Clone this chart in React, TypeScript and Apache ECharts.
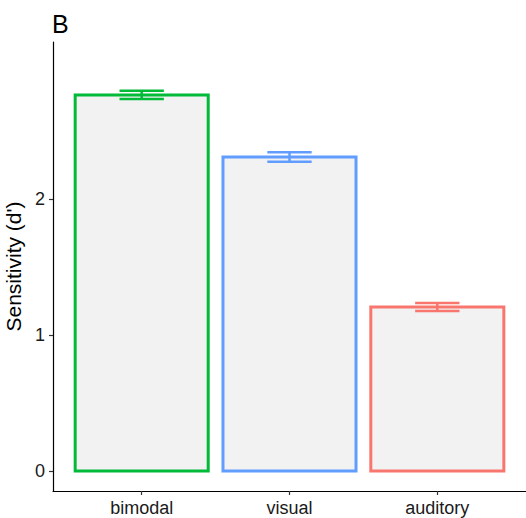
import React, { useEffect, useRef } from "react";
import * as echarts from "echarts";

const categories = ["bimodal", "visual", "auditory"];
const sensitivity = [2.765, 2.309, 1.206];
const errLow = [2.735, 2.274, 1.176];
const errHigh = [2.795, 2.344, 1.236];
const colors = ["#00BA38", "#619CFF", "#F8766D"];
const yTicks = [0, 1, 2];

export default function App() {
  const ref = useRef<HTMLDivElement>(null);
  useEffect(() => {
    const chart = echarts.init(ref.current!, undefined, { renderer: "svg" });
    const data = categories.map((c, i) => [i + 1, sensitivity[i], errLow[i], errHigh[i], i]);
    chart.setOption({
      animation: false,
      title: {
        text: "B",
        left: 52,
        top: 11,
        padding: 0,
        textStyle: { fontFamily: "Liberation Sans", fontSize: 25, fontWeight: "normal", color: "#000" },
      },
      grid: { left: 53, right: 0, top: 42, bottom: 27, containLabel: false, outerBoundsMode: "none" },
      xAxis: {
        type: "value",
        min: 0.4,
        max: 3.6,
        splitLine: { show: false },
        axisLine: { onZero: false, lineStyle: { color: "#000", width: 1.2 } },
        axisTick: { show: true, length: 4, customValues: [1, 2, 3], lineStyle: { color: "#333", width: 1.2 } },
        axisLabel: {
          customValues: [1, 2, 3],
          formatter: (v: number) => categories[Math.round(v) - 1] ?? "",
          fontFamily: "Liberation Sans",
          fontSize: 18,
          color: "#1a1a1a",
          margin: 8,
        },
      },
      yAxis: {
        type: "value",
        min: -0.147,
        max: 3.154,
        name: "Sensitivity (d')",
        nameLocation: "middle",
        nameGap: 27,
        nameTextStyle: { fontFamily: "Liberation Sans", fontSize: 21, color: "#000" },
        splitLine: { show: false },
        axisLine: { show: true, onZero: false, lineStyle: { color: "#000", width: 1.2 } },
        axisTick: { show: true, length: 4, customValues: yTicks, lineStyle: { color: "#333", width: 1.2 } },
        axisLabel: {
          customValues: yTicks,
          fontFamily: "Liberation Sans",
          fontSize: 18,
          color: "#1a1a1a",
          margin: 8,
        },
      },
      series: [
        {
          type: "custom",
          data,
          clip: false,
          renderItem: (params: any, api: any) => {
            const x = api.value(0);
            const y = api.value(1);
            const lo = api.value(2);
            const hi = api.value(3);
            const idx = api.value(4);
            const col = colors[idx];
            const p0 = api.coord([x - 0.45, 0]);
            const p1 = api.coord([x + 0.45, y]);
            const cl = api.coord([x - 0.15, lo]);
            const ch = api.coord([x + 0.15, hi]);
            const c = api.coord([x, 0])[0];
            return {
              type: "group",
              children: [
                {
                  type: "rect",
                  shape: { x: p0[0], y: p1[1], width: p1[0] - p0[0], height: p0[1] - p1[1] },
                  style: { fill: "#F2F2F2", stroke: col, lineWidth: 3 },
                },
                {
                  type: "line",
                  shape: { x1: cl[0], y1: cl[1], x2: ch[0], y2: cl[1] },
                  style: { stroke: col, lineWidth: 2.5 },
                },
                {
                  type: "line",
                  shape: { x1: cl[0], y1: ch[1], x2: ch[0], y2: ch[1] },
                  style: { stroke: col, lineWidth: 2.5 },
                },
                {
                  type: "line",
                  shape: { x1: c, y1: cl[1], x2: c, y2: ch[1] },
                  style: { stroke: col, lineWidth: 2.5 },
                },
              ],
            };
          },
        },
      ],
    });
    return () => chart.dispose();
  }, []);
  return (
    <div
      ref={ref}
      style={{ position: "fixed", left: 0, top: 0, width: 526, height: 518, background: "#fff" }}
    />
  );
}
